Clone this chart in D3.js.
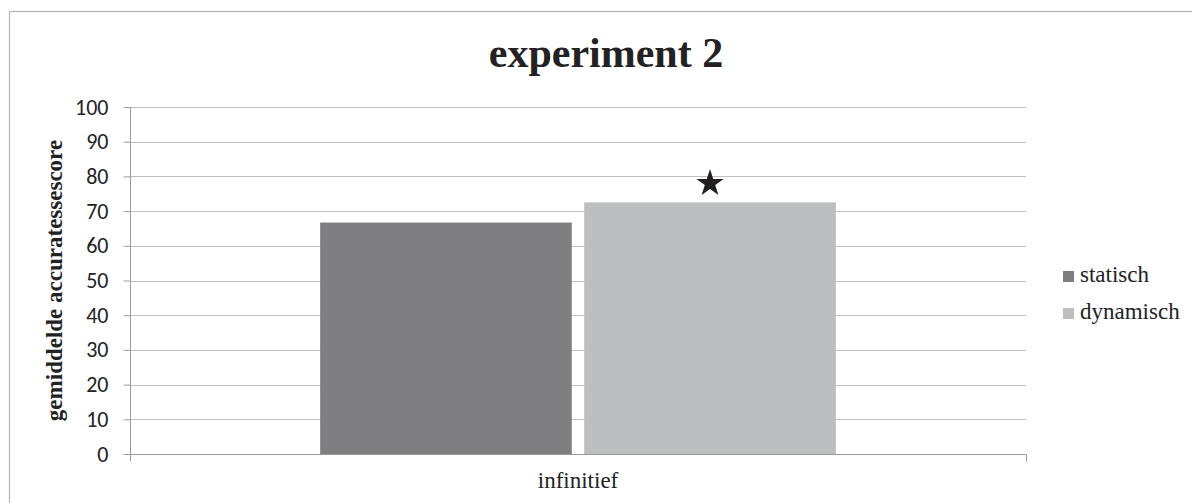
<!DOCTYPE html>
<html>
<head>
<meta charset="UTF-8">
<title>experiment 2</title>
<script src="https://cdn.jsdelivr.net/npm/d3@7"></script>
<style>
  body { margin: 0; background: #fff; }
  svg { display: block; }
</style>
</head>
<body>
<script>
// data
var categories = ["infinitief"];
var seriesNames = ["statisch", "dynamisch"];
var seriesValues = [[66.7], [72.5]];
var seriesColors = ["#7f7f82", "#bdbec0"];
var significant = [false, true];   // star above the bar
var yTicks = [0, 10, 20, 30, 40, 50, 60, 70, 80, 90, 100];

var W = 1192, H = 503;
var margin = { left: 130, right: 166, top: 107, bottom: 48 };
var serif = "'Liberation Serif', 'Times New Roman', serif";

var svg = d3.select("body").append("svg")
    .attr("width", W)
    .attr("height", H);

// outer chart border (right and bottom edges run off the picture)
svg.append("rect")
    .attr("x", 9.5).attr("y", 11.5)
    .attr("width", W + 10).attr("height", H)
    .attr("fill", "none")
    .attr("stroke", "#b4b4b4")
    .attr("stroke-width", 1.2);

var x = d3.scaleBand()
    .domain(categories)
    .range([margin.left, W - margin.right]);

var y = d3.scaleLinear()
    .domain([0, 100])
    .range([H - margin.bottom - 1, margin.top]);

// bars sit in the middle of the category band
var inner = d3.scaleBand()
    .domain(seriesNames)
    .range([0, x.bandwidth()])
    .paddingInner(0.047)
    .paddingOuter(0.72);

// gridlines
svg.append("g").selectAll("line")
    .data(yTicks.filter(function (d) { return d > 0; }))
    .enter().append("line")
    .attr("x1", margin.left).attr("x2", W - margin.right)
    .attr("y1", function (d) { return Math.round(y(d)) + 0.5; })
    .attr("y2", function (d) { return Math.round(y(d)) + 0.5; })
    .attr("stroke", "#bfbfbf")
    .attr("stroke-width", 1);

// y axis
var yAxis = svg.append("g")
    .attr("transform", "translate(" + (margin.left + 0.5) + ",0)")
    .call(d3.axisLeft(y).tickValues(yTicks).tickSize(7).tickPadding(15));
yAxis.select(".domain").attr("stroke", "#9a9a9a").attr("d", "M0," + y(100) + "V" + (y(0) + 7));
yAxis.selectAll(".tick line").attr("stroke", "#9a9a9a");
yAxis.selectAll("text")
    .attr("font-family", "Carlito, 'Liberation Sans', Arial, sans-serif")
    .attr("font-size", 22)
    .attr("fill", "#222");

// bars
svg.append("g").selectAll("rect")
    .data(seriesNames.map(function (s, i) {
        return { name: s, value: seriesValues[i][0], cat: categories[0], i: i };
    }))
    .enter().append("rect")
    .attr("x", function (d) { return x(d.cat) + inner(d.name); })
    .attr("y", function (d) { return y(d.value); })
    .attr("width", inner.bandwidth())
    .attr("height", function (d) { return y(0) - y(d.value); })
    .attr("fill", function (d) { return seriesColors[d.i]; });

// x axis baseline with end ticks
var x0 = Math.round(y(0)) + 0.5;
var xAxis = svg.append("g")
    .attr("transform", "translate(0," + x0 + ")")
    .call(d3.axisBottom(x).tickSize(0).tickPadding(17));
xAxis.select(".domain").attr("stroke", "#9a9a9a")
    .attr("d", "M" + (margin.left + 0.5) + ",0H" + (W - margin.right + 0.5) + "V7");
xAxis.selectAll("text")
    .attr("font-family", serif)
    .attr("font-size", 23)
    .attr("fill", "#222");

// star for significance
var star = d3.symbol().type(d3.symbolStar).size(230);
svg.append("g").selectAll("path")
    .data(seriesNames.map(function (s, i) { return { name: s, value: seriesValues[i][0], i: i }; })
        .filter(function (d) { return significant[d.i]; }))
    .enter().append("path")
    .attr("d", star)
    .attr("transform", function (d) {
        return "translate(" + (x(categories[0]) + inner(d.name) + inner.bandwidth() / 2) + "," + (y(d.value) - 19) + ")";
    })
    .attr("fill", "#231f20");

// title
svg.append("text")
    .attr("x", 606).attr("y", 67)
    .attr("text-anchor", "middle")
    .attr("font-family", serif)
    .attr("font-weight", "bold")
    .attr("font-size", 42)
    .attr("fill", "#222")
    .text("experiment 2");

// y axis title
svg.append("text")
    .attr("transform", "translate(62," + ((y(0) + y(100)) / 2) + ") rotate(-90)")
    .attr("text-anchor", "middle")
    .attr("font-family", serif)
    .attr("font-weight", "bold")
    .attr("font-size", 23)
    .attr("fill", "#222")
    .text("gemiddelde accuratessescore");

// legend
var legend = svg.append("g").selectAll("g")
    .data(seriesNames)
    .enter().append("g")
    .attr("transform", function (d, i) { return "translate(1063," + (271 + i * 37) + ")"; });
legend.append("rect")
    .attr("width", 11).attr("height", 11)
    .attr("fill", function (d, i) { return seriesColors[i]; });
legend.append("text")
    .attr("x", 17).attr("y", 11)
    .attr("font-family", serif)
    .attr("font-size", 23)
    .attr("fill", "#222")
    .text(function (d) { return d; });
</script>
</body>
</html>
